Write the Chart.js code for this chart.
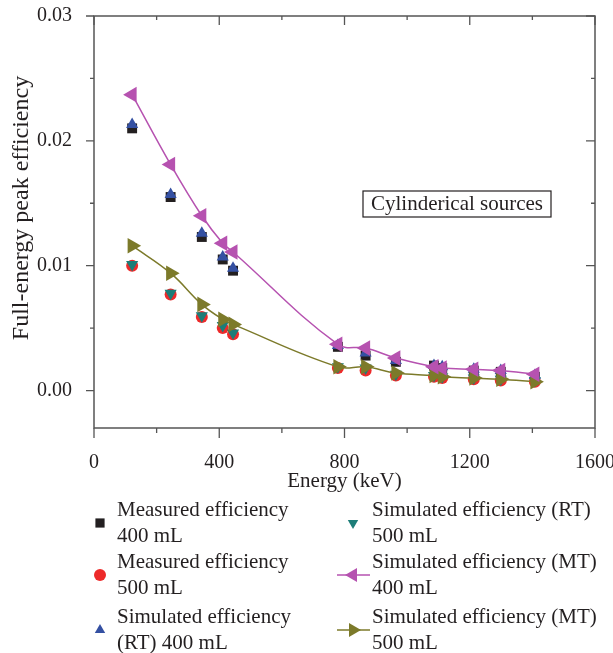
<!DOCTYPE html>
<html>
<head>
<meta charset="utf-8">
<script src="https://cdn.jsdelivr.net/npm/chart.js@4.4.1/dist/chart.umd.min.js"></script>
<style>
  body { margin: 0; background: #fff; }
  canvas { display: block; }
</style>
</head>
<body>
<canvas id="chart" width="613" height="653"></canvas>
<script>
// Energies (keV) of the gamma lines
const energies = [121.8, 244.7, 344.3, 411.1, 444.0, 778.9, 867.4, 964.1, 1085.8, 1112.1, 1212.9, 1299.1, 1408.0];

const measured400 = [0.0210, 0.0155, 0.0123, 0.0105, 0.0096, 0.0035, 0.0028, 0.0023, 0.0020, 0.0018, 0.0016, 0.0015, 0.0011];
const measured500 = [0.0100, 0.0077, 0.0059, 0.0050, 0.0045, 0.0018, 0.0016, 0.0012, 0.0011, 0.0010, 0.0009, 0.0008, 0.0007];
const simRT400    = [0.0213, 0.0157, 0.0126, 0.0107, 0.0098, 0.0036, 0.0030, 0.0024, 0.0020, 0.0019, 0.0017, 0.0016, 0.0012];
const simRT500    = [0.0101, 0.0078, 0.0060, 0.0052, 0.0046, 0.0019, 0.0018, 0.0013, 0.0012, 0.0011, 0.0010, 0.0009, 0.0008];
const simMT400    = [0.0237, 0.0181, 0.0140, 0.0118, 0.0111, 0.0037, 0.0034, 0.0026, 0.0019, 0.0018, 0.0017, 0.0016, 0.0013];
const simMT500    = [0.0116, 0.0094, 0.0069, 0.0057, 0.0053, 0.0019, 0.0019, 0.0014, 0.0012, 0.0011, 0.0010, 0.0009, 0.0007];

const xTicks = [0, 400, 800, 1200, 1600];
const xMinor = [200, 600, 1000, 1400];
const yTicks = [0, 0.01, 0.02, 0.03];
const yMinor = [0.005, 0.015, 0.025];

const FONT = "'Liberation Serif', 'DejaVu Serif', serif";
const pts = arr => energies.map((e, i) => ({ x: e, y: arr[i] }));

const series = [
  { label: ["Measured efficiency", "400 mL"], data: measured400, color: "#231f20", style: "rect", radius: 7, rot: 0, line: false, order: 5 },
  { label: ["Measured efficiency", "500 mL"], data: measured500, color: "#ed2a2a", style: "circle", radius: 6, rot: 0, line: false, order: 4 },
  { label: ["Simulated efficiency", "(RT) 400 mL"], data: simRT400, color: "#3450a2", style: "triangle", radius: 7, rot: 0, line: false, order: 3 },
  { label: ["Simulated efficiency (RT)", "500 mL"], data: simRT500, color: "#1d7d78", style: "triangle", radius: 7, rot: 180, line: false, order: 2 },
  { label: ["Simulated efficiency (MT)", "400 mL"], data: simMT400, color: "#b652b0", style: "triangle", radius: 9, rot: -90, line: true, order: 0 },
  { label: ["Simulated efficiency (MT)", "500 mL"], data: simMT500, color: "#7c7a2a", style: "triangle", radius: 9, rot: 90, line: true, order: 1 }
];

const datasets = series.map(s => ({
  label: s.label.join(" "),
  data: pts(s.data),
  showLine: s.line,
  borderColor: s.color,
  borderWidth: 1.5,
  backgroundColor: s.color,
  pointStyle: s.style,
  pointRadius: s.radius,
  pointRotation: s.rot,
  pointBorderWidth: 0,
  pointBackgroundColor: s.color,
  tension: 0.4,
  order: s.order
}));

// frame, ticks, titles, annotation box and legend
const decor = {
  id: "decor",
  afterDraw(chart) {
    const { ctx, chartArea: a, scales: { x, y } } = chart;
    ctx.save();
    ctx.strokeStyle = "#555";
    ctx.lineWidth = 1.5;
    ctx.strokeRect(a.left, a.top, a.right - a.left, a.bottom - a.top);

    ctx.lineWidth = 1.3;
    ctx.beginPath();
    const tick = (x1, y1, x2, y2) => { ctx.moveTo(x1, y1); ctx.lineTo(x2, y2); };
    xTicks.forEach(v => {
      const px = x.getPixelForValue(v);
      tick(px, a.bottom, px, a.bottom + 10);
      tick(px, a.top, px, a.top + 9);
    });
    xMinor.forEach(v => {
      const px = x.getPixelForValue(v);
      tick(px, a.bottom, px, a.bottom + 5);
      tick(px, a.top, px, a.top + 4);
    });
    yTicks.forEach(v => {
      const py = y.getPixelForValue(v);
      tick(a.left - 8, py, a.left, py);
      tick(a.right - 9, py, a.right, py);
    });
    yMinor.forEach(v => {
      const py = y.getPixelForValue(v);
      tick(a.left - 4, py, a.left, py);
      tick(a.right - 4, py, a.right, py);
    });
    ctx.stroke();

    ctx.fillStyle = "#231f20";
    ctx.font = "21px " + FONT;
    ctx.textAlign = "center";
    ctx.textBaseline = "alphabetic";
    ctx.fillText("Energy (keV)", (a.left + a.right) / 2, 487);

    ctx.save();
    ctx.font = "24px " + FONT;
    ctx.translate(28, 208);
    ctx.rotate(-Math.PI / 2);
    ctx.fillText("Full-energy peak efficiency", 0, 0);
    ctx.restore();

    // annotation box
    ctx.font = "21px " + FONT;
    ctx.lineWidth = 1.2;
    ctx.strokeStyle = "#231f20";
    ctx.strokeRect(363, 191, 188, 26);
    ctx.textBaseline = "middle";
    ctx.fillText("Cylinderical sources", 457, 204);

    // legend, two columns
    const rows = [[0, 3], [1, 4], [2, 5]];
    const rowY = [510, 562, 617];
    ctx.textAlign = "left";
    rows.forEach((pair, r) => {
      pair.forEach((si, c) => {
        const s = series[si];
        const sx = c === 0 ? 100 : 353;
        const tx = c === 0 ? 117 : 372;
        const sy = rowY[r] + 13;
        if (s.line) {
          ctx.strokeStyle = s.color;
          ctx.lineWidth = 1.5;
          ctx.beginPath();
          ctx.moveTo(sx - 16, sy);
          ctx.lineTo(sx + 17, sy);
          ctx.stroke();
        }
        ctx.fillStyle = s.color;
        Chart.helpers.drawPoint(ctx, {
          pointStyle: s.style,
          radius: s.style === "rect" ? 6.5 : (s.line ? 8 : 6),
          rotation: s.rot,
          borderWidth: 0
        }, sx, sy);
        ctx.fillStyle = "#231f20";
        ctx.fillText(s.label[0], tx, rowY[r]);
        ctx.fillText(s.label[1], tx, rowY[r] + 26);
      });
    });
    ctx.restore();
  }
};

const noPad = s => { s.paddingTop = 0; s.paddingBottom = 0; s.paddingLeft = 0; s.paddingRight = 0; };

new Chart(document.getElementById("chart"), {
  type: "scatter",
  data: { datasets },
  plugins: [decor],
  options: {
    responsive: false,
    animation: false,
    layout: { padding: { top: 16, right: 18, bottom: 165, left: 0 } },
    plugins: { legend: { display: false }, tooltip: { enabled: false } },
    scales: {
      x: {
        type: "linear",
        min: 0,
        max: 1600,
        grid: { display: false },
        border: { display: false },
        afterFit: s => { s.height = 60; noPad(s); },
        afterBuildTicks: s => { s.ticks = xTicks.map(v => ({ value: v })); },
        ticks: {
          padding: 15,
          maxRotation: 0,
          color: "#231f20",
          font: { family: FONT, size: 20 },
          callback: v => String(v)
        }
      },
      y: {
        type: "linear",
        min: -0.003,
        max: 0.03,
        grid: { display: false },
        border: { display: false },
        afterFit: s => { s.width = 94; noPad(s); },
        afterBuildTicks: s => { s.ticks = yTicks.map(v => ({ value: v })); },
        ticks: {
          padding: 14,
          color: "#231f20",
          font: { family: FONT, size: 20 },
          callback: v => v.toFixed(2)
        }
      }
    }
  }
});
</script>
</body>
</html>
